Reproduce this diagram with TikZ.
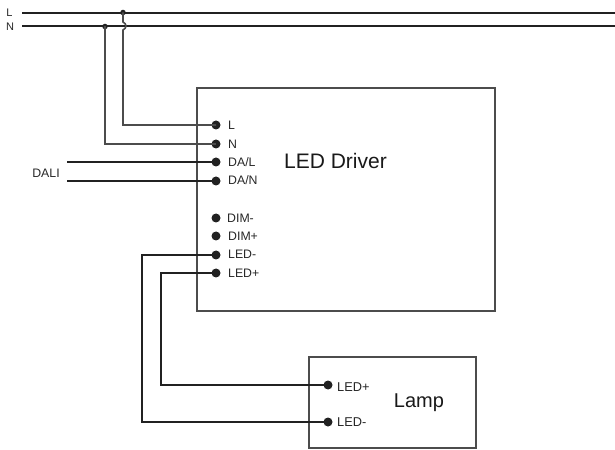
\documentclass[tikz,border=0pt]{standalone}
\usepackage{fontspec}
\setmainfont{Liberation Sans}
\definecolor{wire}{gray}{0.13}
\definecolor{thin}{gray}{0.3}
\tikzset{
  x=1bp,y=-1bp,
  hv/.style={line width=2bp,draw=wire},
  lv/.style={line width=1.6bp,draw=thin},
  boxs/.style={line width=1.4bp,draw=thin},
  term/.style={circle,fill=wire,inner sep=0pt,minimum size=9bp},
  junc/.style={circle,fill=wire,inner sep=0pt,minimum size=5.5bp},
  tlabel/.style={anchor=west,inner sep=0pt,font=\fontsize{12.3bp}{13bp}\selectfont,text=black!85},
  lamplabel/.style={tlabel,font=\fontsize{12.8bp}{13bp}\selectfont},
  mains/.style={anchor=center,inner sep=0pt,font=\fontsize{11bp}{12bp}\selectfont,text=black!85},
  dalilabel/.style={anchor=center,inner sep=0pt,font=\fontsize{12.3bp}{13bp}\selectfont,text=black!85},
  title/.style={inner sep=0pt,font=\fontsize{21bp}{23bp}\selectfont,text=black!90},
  lamptitle/.style={inner sep=0pt,font=\fontsize{20bp}{22bp}\selectfont,text=black!90}
}
\begin{document}
\begin{tikzpicture}
\useasboundingbox (0,0) rectangle (615,450);
% boxes
\draw[boxs] (197,88) rectangle (495,311);
\draw[boxs] (309,357) rectangle (476,448);
% mains
\coordinate (Ls) at (22,13); \coordinate (Le) at (615,13);
\coordinate (Ns) at (22,26); \coordinate (Ne) at (615,26);
\draw[hv] (Ls)--(Le);
\draw[hv] (Ns)--(Ne);
\node[mains] (lblL) at (9.5,13) {L};
\node[mains] (lblN) at (10,27) {N};
\node[junc] (jL) at (123,12.5) {};
\node[junc] (jN) at (105,26.5) {};
% terminals
\node[term] (tL) at (216,125) {};
\node[term] (tN) at (216,144) {};
\node[term] (tDL) at (216,162) {};
\node[term] (tDN) at (216,181) {};
\node[term] (tDm) at (216,218) {};
\node[term] (tDp) at (216,236) {};
\node[term] (tLm) at (216,255) {};
\node[term] (tLp) at (216,273) {};
\node[term] (lp) at (328,385) {};
\node[term] (lm) at (328,422) {};
\node[tlabel] at (228,125.5) {L};
\node[tlabel] at (228,144) {N};
\node[tlabel] at (228,162.5) {DA/L};
\node[tlabel] at (228,180.5) {DA/N};
\node[tlabel] at (227,218.5) {DIM-};
\node[tlabel] at (228,236.5) {DIM+};
\node[tlabel] at (228,254.5) {LED-};
\node[tlabel] at (228,273.5) {LED+};
\node[lamplabel] at (337,387) {LED+};
\node[lamplabel] at (337,422) {LED-};
\node[title] (drv) at (335.5,161) {LED Driver};
\node[lamptitle] (lamp) at (419,402.5) {Lamp};
\node[dalilabel] (dali) at (46,173) {DALI};
% wires
\draw[lv] (jL.center) -- (123,22) .. controls (127,24) and (127,28) .. (123,30) -- (123,125) -- (tL.center);
\draw[lv] (jN.center) -- (105,144) -- (tN.center);
\coordinate (d1) at (67,162); \coordinate (d2) at (67,181);
\draw[hv] (d1) -- (tDL.center);
\draw[hv] (d2) -- (tDN.center);
\draw[hv] (tLm.center) -- (142,255) -- (142,422) -- (lm.center);
\draw[hv] (tLp.center) -- (161,273) -- (161,385) -- (lp.center);
\end{tikzpicture}
\end{document}
